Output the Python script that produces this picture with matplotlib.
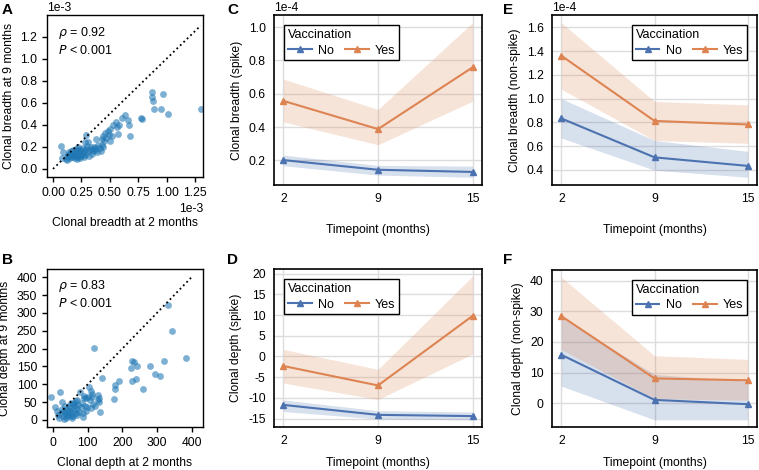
import numpy as np
import matplotlib.pyplot as plt
from matplotlib.ticker import MultipleLocator

plt.rcParams['font.family'] = ['Liberation Sans', 'DejaVu Sans']
plt.rcParams['font.size'] = 8.7
plt.rcParams['xtick.labelsize'] = 8.7
plt.rcParams['ytick.labelsize'] = 8.7
plt.rcParams['axes.unicode_minus'] = False

# scatter A: clonal breadth (x1e-3)
breadth_2m = [0.07, 0.09, 0.08, 0.11, 0.12, 0.12, 0.13, 0.14, 0.14, 0.15, 0.15, 0.16, 0.16, 0.17,
              0.17, 0.18, 0.18, 0.19, 0.19, 0.20, 0.20, 0.21, 0.21, 0.22, 0.22, 0.22, 0.23, 0.23,
              0.24, 0.24, 0.25, 0.25, 0.26, 0.26, 0.27, 0.27, 0.28, 0.28, 0.29, 0.29, 0.30, 0.30,
              0.31, 0.32, 0.32, 0.33, 0.34, 0.34, 0.35, 0.36, 0.37, 0.38, 0.38, 0.39, 0.40, 0.41,
              0.42, 0.43, 0.43, 0.44, 0.44, 0.45, 0.46, 0.47, 0.48, 0.49, 0.50, 0.50, 0.52, 0.53,
              0.55, 0.56, 0.57, 0.58, 0.61, 0.63, 0.66, 0.67, 0.68, 0.77, 0.78, 0.87, 0.87, 0.88,
              0.89, 0.95, 0.97, 1.01, 1.30]
breadth_9m = [0.21, 0.15, 0.10, 0.09, 0.08, 0.11, 0.13, 0.12, 0.15, 0.10, 0.14, 0.12, 0.16, 0.11,
              0.14, 0.13, 0.17, 0.10, 0.15, 0.12, 0.18, 0.09, 0.14, 0.11, 0.16, 0.20, 0.13, 0.18,
              0.10, 0.15, 0.12, 0.17, 0.14, 0.19, 0.11, 0.16, 0.13, 0.24, 0.31, 0.18, 0.15, 0.21,
              0.24, 0.12, 0.17, 0.20, 0.14, 0.18, 0.16, 0.20, 0.17, 0.27, 0.19, 0.15, 0.22, 0.19,
              0.16, 0.22, 0.27, 0.30, 0.20, 0.25, 0.33, 0.28, 0.34, 0.31, 0.36, 0.25, 0.30, 0.40,
              0.43, 0.38, 0.32, 0.40, 0.46, 0.49, 0.44, 0.40, 0.30, 0.46, 0.45, 0.70, 0.65, 0.62,
              0.54, 0.54, 0.68, 0.50, 0.54]

# scatter B: clonal depth
depth_2m = [-7, 5, 12, 15, 18, 20, 22, 25, 26, 28, 30, 32, 35, 38, 40, 42, 44, 45, 48, 50, 50, 52,
            55, 57, 58, 60, 62, 65, 66, 68, 70, 72, 75, 78, 80, 82, 85, 86, 88, 90, 92, 95, 98,
            102, 105, 108, 110, 112, 113, 115, 118, 120, 128, 130, 132, 133, 135, 140, 176, 178,
            178, 191, 224, 227, 227, 233, 238, 243, 260, 280, 294, 310, 320, 332, 342, 384, 70,
            60, 100, 40, 55, 35, 95]
depth_9m = [63, 35, 25, 15, 5, 78, 20, 30, 50, 10, 25, 3, 18, 5, 30, 22, 15, 40, 25, 10, 48, 32,
            20, 45, 12, 28, 38, 18, 52, 30, 15, 42, 22, 78, 35, 48, 20, 8, 62, 68, 40, 25, 36,
            92, 55, 33, 80, 72, 65, 45, 202, 38, 55, 70, 60, 50, 23, 117, 59, 86, 98, 110, 145,
            164, 110, 161, 114, 151, 86, 150, 128, 124, 165, 322, 248, 173, 55, 48, 63, 12, 5,
            40, 60]

timepoints = ['2', '9', '15']
groups = ['No', 'Yes']
colors = {'No': '#4c72b0', 'Yes': '#dd8452'}

# line panels: mean, lower, upper per group
breadth_spike = {'No': ([0.202, 0.144, 0.131], [0.168, 0.112, 0.099], [0.232, 0.170, 0.166]),
                 'Yes': ([0.557, 0.388, 0.758], [0.431, 0.294, 0.555], [0.688, 0.506, 1.026])}
depth_spike = {'No': ([-11.7, -14.1, -14.4], [-13.3, -15.1, -15.3], [-10.5, -13.1, -13.4]),
               'Yes': ([-2.3, -7.0, 9.8], [-6.4, -10.4, 0.6], [1.7, -3.1, 19.4])}
breadth_nonspike = {'No': ([0.833, 0.505, 0.433], [0.668, 0.397, 0.337], [1.0, 0.647, 0.556]),
                    'Yes': ([1.362, 0.812, 0.782], [1.08, 0.647, 0.623], [1.64, 0.977, 0.947])}
depth_nonspike = {'No': ([15.8, 1.1, -0.3], [5.6, -5.4, -5.4], [28.0, 9.4, 7.2]),
                  'Yes': ([28.4, 8.1, 7.5], [17.5, 1.5, 1.0], [41.1, 15.5, 14.3])}

W, H = 759, 470
fig = plt.figure(figsize=(W / 100, H / 100), dpi=100)

def box(l, r, t, b):
    return [l / W, 1 - b / H, (r - l) / W, (b - t) / H]

def scatter_panel(rect, x, y, lim, xl, yl, rho, xlim, ylim, ly):
    ax = fig.add_axes(rect)
    ax.scatter(x, y, s=24, color='#1f77b4', alpha=0.58, linewidths=0)
    ax.plot([0, lim], [0, lim], color='black', ls=':', lw=1.3)
    ax.set_xlim(*xlim)
    ax.set_ylim(*ylim)
    ax.set_xlabel(xl)
    ax.xaxis.set_label_coords(0.5, ly)
    ax.set_ylabel(yl)
    ax.text(0.07, 0.94, r'$\rho$ = ' + rho, transform=ax.transAxes, va='top', fontsize=9)
    ax.text(0.07, 0.82, '$P$ < 0.001', transform=ax.transAxes, va='top', fontsize=9)
    ax.tick_params(length=3.5, width=1)
    for s in ax.spines.values():
        s.set_linewidth(1)
    return ax

axA = scatter_panel(box(47, 203, 15, 177), np.array(breadth_2m) * 1e-3, np.array(breadth_9m) * 1e-3,
                    1.3e-3, 'Clonal breadth at 2 months', 'Clonal breadth at 9 months', '0.92',
                    (-0.053e-3, 1.32e-3), (-0.073e-3, 1.396e-3), -0.25)
axA.set_xticks(np.arange(0, 1.26e-3, 0.25e-3))
axA.set_yticks(np.arange(0, 1.21e-3, 0.2e-3))
axA.ticklabel_format(style='sci', scilimits=(0, 0))

axB = scatter_panel(box(47, 203, 269, 427), depth_2m, depth_9m, 400,
                    'Clonal depth at 2 months', 'Clonal depth at 9 months', '0.83',
                    (-18, 433), (-20, 423), -0.19)
axB.set_xticks([0, 100, 200, 300, 400])
axB.set_yticks(range(0, 401, 50))

def line_panel(rect, data, scale, yl, loc, ly):
    ax = fig.add_axes(rect)
    xs = np.arange(len(timepoints))
    for g in groups:
        m, lo, hi = data[g]
        ax.fill_between(xs, np.array(lo) * scale, np.array(hi) * scale, color=colors[g],
                        alpha=0.22, linewidth=0)
        ax.plot(xs, np.array(m) * scale, color=colors[g], marker='^', ms=5, lw=1.5, label=g)
    ax.set_xticks(xs)
    ax.set_xticklabels(timepoints)
    ax.margins(x=0.05)
    ax.grid(True, color='#dcdcdc', lw=1)
    ax.set_axisbelow(True)
    ax.tick_params(length=0, pad=6)
    for s in ax.spines.values():
        s.set_linewidth(1.2)
        s.set_color('black')
    ax.set_xlabel('Timepoint (months)')
    ax.xaxis.set_label_coords(0.5, ly)
    ax.set_ylabel(yl)
    leg = ax.legend(title='Vaccination', ncol=2, loc=loc, fancybox=False, edgecolor='black',
                    framealpha=1, fontsize=9, title_fontsize=9, alignment='left',
                    handlelength=1.9, handletextpad=0.5, columnspacing=0.9, borderpad=0.3,
                    labelspacing=0.3, borderaxespad=0.8)
    leg.get_frame().set_linewidth(1)
    return ax

axC = line_panel(box(274, 482, 15, 185), breadth_spike, 1e-4, 'Clonal breadth (spike)', 'upper left', -0.23)
axD = line_panel(box(274, 482, 269, 427), depth_spike, 1, 'Clonal depth (spike)', 'upper left', -0.19)
axE = line_panel(box(552, 757, 15, 185), breadth_nonspike, 1e-4, 'Clonal breadth (non-spike)', 'upper right', -0.23)
axF = line_panel(box(552, 757, 270, 427), depth_nonspike, 1, 'Clonal depth (non-spike)', 'upper right', -0.19)
axD.set_yticks(range(-15, 21, 5))
axC.yaxis.set_major_locator(MultipleLocator(0.2e-4))
axE.yaxis.set_major_locator(MultipleLocator(0.2e-4))
for ax in (axC, axE):
    ax.ticklabel_format(axis='y', style='sci', scilimits=(0, 0))

for lab, x, y in [('A', 2, 3), ('B', 2, 253), ('C', 227, 3), ('D', 227, 253), ('E', 503, 3), ('F', 503, 253)]:
    fig.text(x / W, 1 - y / H, lab, fontsize=11, fontweight='bold', va='top', ha='left')

fig.savefig('out.png', dpi=100)
